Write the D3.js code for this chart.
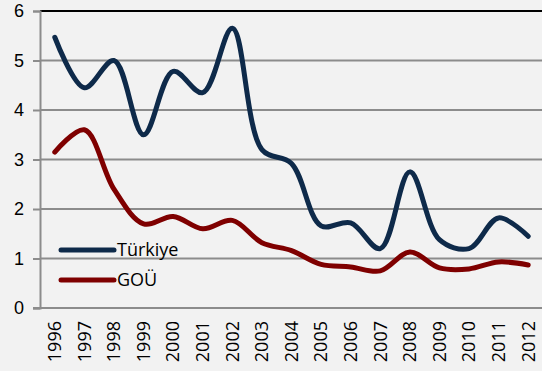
<!DOCTYPE html>
<html>
<head>
<meta charset="utf-8">
<script src="https://cdn.jsdelivr.net/npm/d3@7"></script>
<style>
  html, body { margin: 0; padding: 0; background: #F2F2F2; }
  svg { display: block; font-family: "Open Sans", "Liberation Sans", sans-serif; }
</style>
</head>
<body>
<svg id="chart" width="542" height="371"></svg>
<script>
const years = ["1996","1997","1998","1999","2000","2001","2002","2003","2004","2005","2006","2007","2008","2009","2010","2011","2012"];
const turkiye = [5.47, 4.45, 5.0, 3.5, 4.78, 4.35, 5.65, 3.2, 2.92, 1.66, 1.72, 1.2, 2.75, 1.38, 1.2, 1.82, 1.45];
const gou = [3.15, 3.6, 2.4, 1.7, 1.85, 1.6, 1.77, 1.32, 1.16, 0.88, 0.83, 0.75, 1.13, 0.81, 0.79, 0.93, 0.87];
const yTicks = [0, 1, 2, 3, 4, 5, 6];
const seriesNames = ["Türkiye", "GOÜ"];
const seriesColors = ["#0E2A4A", "#7F0000"];

const svg = d3.select("#chart");
const margin = { left: 40, right: -1, top: 11, bottom: 63 };
const W = 542, H = 371;
const FONT = "Open Sans, Liberation Sans, sans-serif";

const x = d3.scaleBand().domain(years).range([margin.left, W - margin.right]);
const y = d3.scaleLinear().domain([0, 6]).range([H - margin.bottom, margin.top]);

// horizontal gridlines (top one drawn dark as the plot border)
svg.append("g").selectAll("line").data(yTicks.filter(d => d > 0)).join("line")
  .attr("x1", margin.left).attr("x2", W)
  .attr("y1", d => y(d)).attr("y2", d => y(d))
  .attr("stroke", d => d === 6 ? "#000" : "#8C8C8C")
  .attr("stroke-width", 2);

// y axis
const yAxis = svg.append("g").attr("transform", `translate(${margin.left},0)`)
  .call(d3.axisLeft(y).tickValues(yTicks).tickSize(7).tickPadding(9).tickFormat(d3.format("d")));
yAxis.select(".domain").attr("stroke", "#8C8C8C").attr("stroke-width", 2);
yAxis.selectAll(".tick line").attr("stroke", "#8C8C8C").attr("stroke-width", 2);
yAxis.selectAll("text").attr("font-size", 18).attr("fill", "#000")
  .attr("font-family", "Liberation Sans, Arial, sans-serif");

// x axis baseline
svg.append("line")
  .attr("x1", margin.left - 7).attr("x2", W)
  .attr("y1", y(0)).attr("y2", y(0))
  .attr("stroke", "#8C8C8C").attr("stroke-width", 2);

// rotated year labels
const xAxis = svg.append("g").attr("transform", `translate(0,${y(0)})`)
  .call(d3.axisBottom(x).tickSize(0).tickPadding(0));
xAxis.select(".domain").remove();
xAxis.selectAll("text")
  .attr("font-size", 18).attr("fill", "#000").attr("font-family", FONT)
  .attr("transform", "rotate(-90)")
  .attr("text-anchor", "end")
  .attr("x", -13).attr("y", 0).attr("dy", "0.35em");

// smoothed lines
const line = d3.line()
  .x((d, i) => x(years[i]) + x.bandwidth() / 2)
  .y(d => y(d))
  .curve(d3.curveCatmullRom.alpha(0.5));

[turkiye, gou].forEach((vals, k) => {
  svg.append("path").datum(vals)
    .attr("d", line)
    .attr("fill", "none")
    .attr("stroke", seriesColors[k])
    .attr("stroke-width", 5)
    .attr("stroke-linecap", "round")
    .attr("stroke-linejoin", "round");
});

// legend
const legend = svg.append("g");
seriesNames.forEach((name, k) => {
  const ly = 250 + k * 30;
  legend.append("line")
    .attr("x1", 61).attr("x2", 114).attr("y1", ly).attr("y2", ly)
    .attr("stroke", seriesColors[k]).attr("stroke-width", 5)
    .attr("stroke-linecap", "round");
  legend.append("text")
    .attr("x", 117).attr("y", ly).attr("dy", "0.35em")
    .attr("font-size", 18).attr("fill", "#000").attr("font-family", FONT)
    .text(name);
});
</script>
</body>
</html>
